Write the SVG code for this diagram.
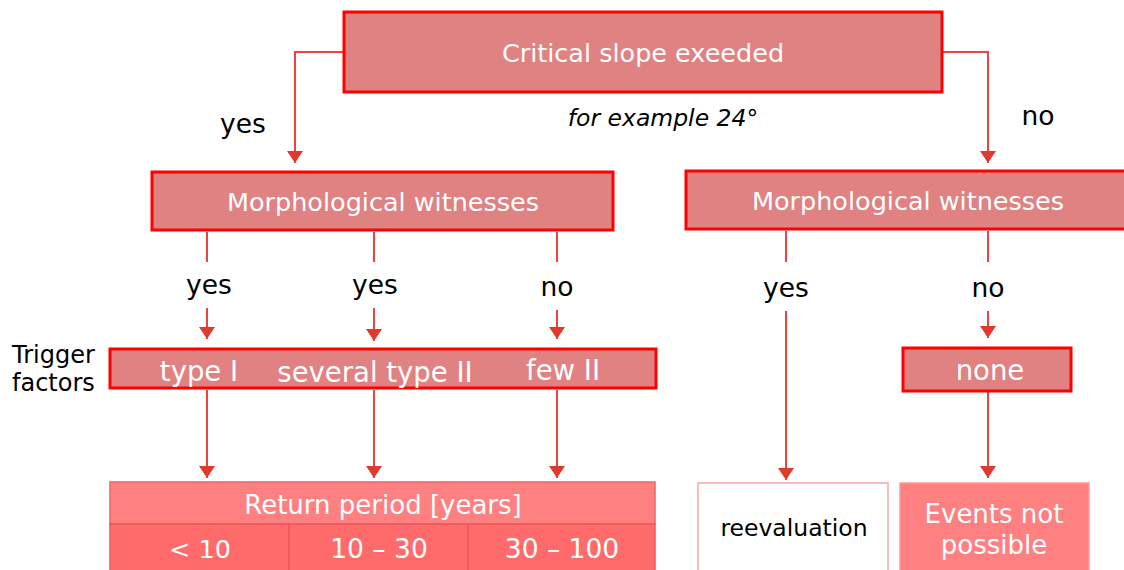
<svg xmlns="http://www.w3.org/2000/svg" width="1124" height="570" viewBox="0 0 1124 570">
<style>
text{font-family:"DejaVu Sans",Verdana,sans-serif;}
.box{fill:#E08282;stroke:#FF0000;stroke-width:3;}
.wt{fill:#FFFFFF;font-size:25.5px;text-anchor:middle;}
.bt{fill:#000000;font-size:26.5px;text-anchor:middle;}
.ln{stroke:#E8463C;stroke-width:2;fill:none;}
.arr{stroke:#E8463C;stroke-width:2;fill:none;marker-end:url(#ah);}
</style>
<defs>
<marker id="ah" viewBox="0 0 12 16" markerWidth="12" markerHeight="16" refX="12" refY="8" orient="auto" markerUnits="userSpaceOnUse">
<path d="M0,0 L12,8 L0,16 z" fill="#E03A2E"/>
</marker>
</defs>
<g id="connectors">
<path class="arr" d="M344,52 H295 V163"/>
<path class="arr" d="M942,52 H988 V163"/>
<path class="ln" d="M207,232 V262"/>
<path class="ln" d="M374,232 V262"/>
<path class="ln" d="M557,232 V262"/>
<path class="arr" d="M207,308 V339"/>
<path class="arr" d="M374,308 V341"/>
<path class="arr" d="M557,310 V339"/>
<path class="arr" d="M207,390 V478"/>
<path class="arr" d="M374,390 V478"/>
<path class="arr" d="M557,390 V478"/>
<path class="ln" d="M786,231 V262"/>
<path class="arr" d="M786,311 V480"/>
<path class="ln" d="M988,231 V262"/>
<path class="arr" d="M988,311 V338"/>
<path class="arr" d="M988,392 V478"/>
</g>
<g id="critical">
<rect class="box" x="344" y="12" width="598" height="80"/>
<text class="wt" x="643" y="62">Critical slope exeeded</text>
</g>
<g id="labels">
<text class="bt" x="243" y="133">yes</text>
<text class="bt" x="1038" y="125">no</text>
<text x="663" y="126" style="font-size:23.5px;font-style:italic" text-anchor="middle" fill="#000">for example 24°</text>
<text class="bt" x="209" y="294">yes</text>
<text class="bt" x="375" y="294">yes</text>
<text class="bt" x="557" y="296">no</text>
<text class="bt" x="786" y="297">yes</text>
<text class="bt" x="988" y="297">no</text>
<text x="12" y="363" style="font-size:24px" fill="#000">Trigger</text>
<text x="12" y="391" style="font-size:24px" fill="#000">factors</text>
</g>
<g id="morph-left">
<rect class="box" x="152" y="172" width="461" height="58"/>
<text class="wt" x="383" y="211">Morphological witnesses</text>
</g>
<g id="morph-right">
<rect class="box" x="686" y="171" width="440" height="58"/>
<text class="wt" x="908" y="210">Morphological witnesses</text>
</g>
<g id="trigger">
<rect class="box" x="110" y="349" width="546" height="39"/>
<text class="wt" x="199" y="381" style="font-size:27.5px">type I</text>
<text class="wt" x="375" y="382" style="font-size:27.5px">several type II</text>
<text class="wt" x="563" y="380" style="font-size:27.5px">few II</text>
</g>
<g id="none">
<rect class="box" x="903" y="348" width="168" height="43"/>
<text class="wt" x="990" y="380" style="font-size:27.5px">none</text>
</g>
<g id="return-period">
<rect x="110" y="482" width="545" height="42" fill="#FF8080" stroke="#F06464" stroke-width="1.5"/>
<rect x="110" y="524" width="179" height="48" fill="#FF6B6B" stroke="#E85C5C" stroke-width="1.5"/>
<rect x="289" y="524" width="179" height="48" fill="#FF6B6B" stroke="#E85C5C" stroke-width="1.5"/>
<rect x="468" y="524" width="187" height="48" fill="#FF6B6B" stroke="#E85C5C" stroke-width="1.5"/>
<text class="wt" x="383" y="514" style="font-size:26px">Return period [years]</text>
<text class="wt" x="200" y="558">&lt; 10</text>
<text class="wt" x="379" y="558" style="font-size:26.5px">10 – 30</text>
<text class="wt" x="562" y="558" style="font-size:26.5px">30 – 100</text>
</g>
<g id="reevaluation">
<rect x="698" y="483" width="190" height="90" fill="#FFFFFF" stroke="#F6BDBD" stroke-width="2"/>
<text class="bt" x="794" y="536" style="font-size:23.5px">reevaluation</text>
</g>
<g id="events">
<rect x="900" y="483" width="189" height="90" fill="#FF8080" stroke="#FF9A9A" stroke-width="1.5"/>
<text class="wt" x="994" y="523" style="font-size:26px">Events not</text>
<text class="wt" x="994" y="554" style="font-size:26px">possible</text>
</g>
</svg>
